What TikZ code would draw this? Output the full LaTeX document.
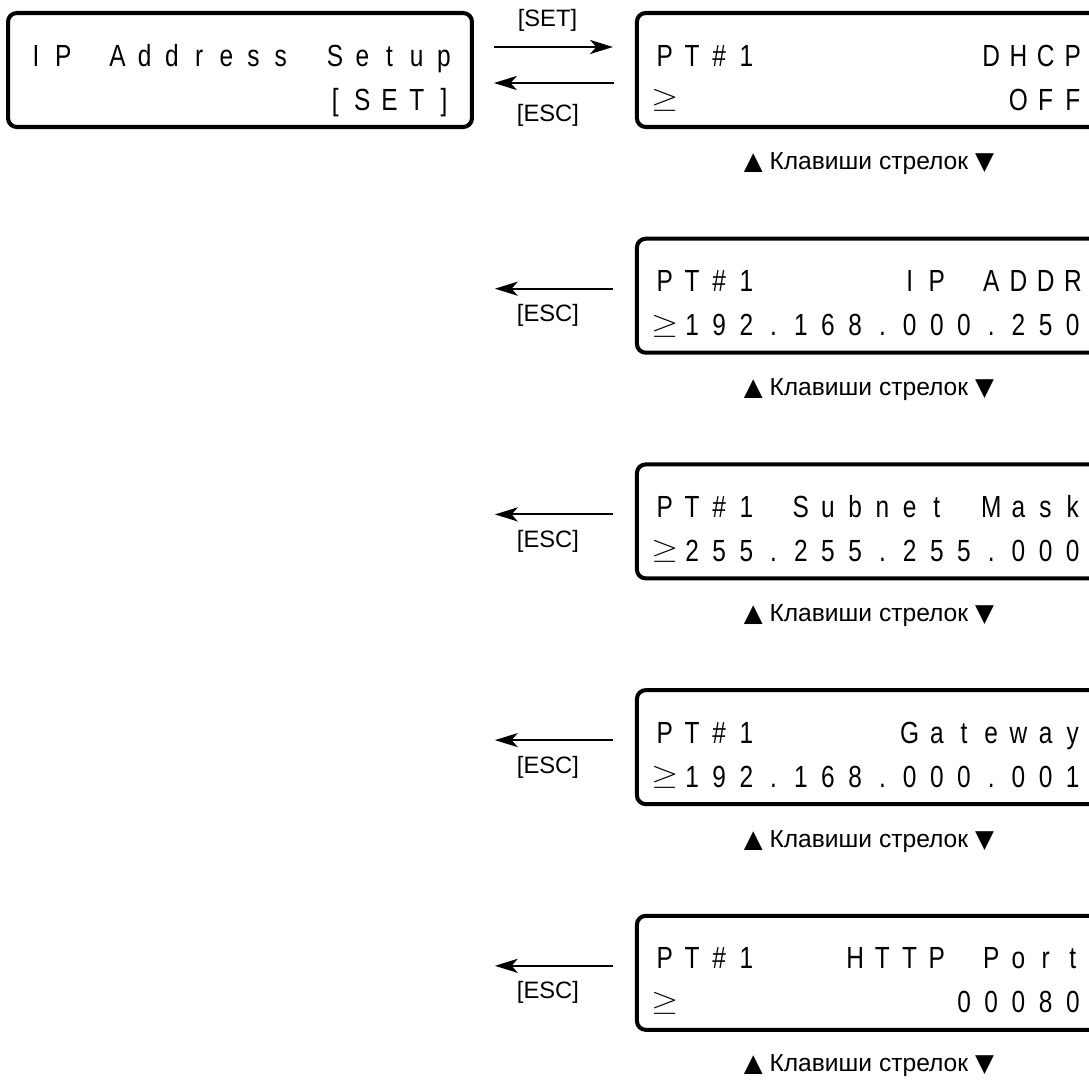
\documentclass[tikz,border=0pt]{standalone}
\usepackage{fontspec}
\usepackage{graphicx}
\setmainfont{Liberation Sans}
\newfontfamily\lcdfont[FakeStretch=0.8]{Liberation Sans}
\newfontfamily\symfont{DejaVu Sans}
\usetikzlibrary{positioning,arrows.meta}

% one LCD line: every character in a cell of its own, ~ for a blank cell
\newlength\lcdpitch
\setlength\lcdpitch{15.48pt}
\newcommand\lcdline[1]{\lcdloop#1\relax}
\def\lcdloop#1{\ifx\relax#1\else\makebox[\lcdpitch]{#1}\expandafter\lcdloop\fi}
\newcommand\lcdge{\raisebox{1.5pt}{\resizebox*{15.5pt}{12.5pt}{$\geq$}}}
\newcommand\arrowkeys{{\symfont ▲} Клавиши стрелок {\symfont ▼}}

\begin{document}
\begin{tikzpicture}[
  x=0.02cm, y=-0.02cm,
  node distance=2.235cm,
  lcd/.style={draw, line width=2.3pt, rounded corners=5pt, outer sep=0pt,
    minimum width=9.28cm, minimum height=2.28cm, inner sep=0pt},
  lcdtext/.style={anchor=base west, inner sep=0pt,
    font=\lcdfont\fontsize{17.4}{20}\selectfont},
  key/.style={-{Stealth[length=13pt,width=8pt,inset=3.5pt]}, line width=1.2pt},
  keyname/.style={inner sep=0pt, xshift=-0.12cm, font=\fontsize{13.5}{15}\selectfont},
  hint/.style={inner sep=0pt, font=\fontsize{14}{16}\selectfont}]
\clip (0,0) rectangle (1089,1084);

% menu entry
\node[lcd] (setup) at (240,70) {};
\node[lcdtext] (setup-1) at ([shift={(14,53)}]setup.north west) {\lcdline{IP~Address~Setup}};
\node[lcdtext] (setup-2) at ([shift={(14,97)}]setup.north west) {\lcdline{~~~~~~~~~~~[SET]}};

% settings screens
\node[lcd, right=3.3cm of setup] (dhcp) {};
\node[lcdtext] (dhcp-1) at ([shift={(14,53)}]dhcp.north west) {\lcdline{PT\#1~~~~~~~~DHCP}};
\node[lcdtext] (dhcp-2) at ([shift={(14,97)}]dhcp.north west) {\lcdline{\lcdge~~~~~~~~~~~~OFF}};

\node[lcd, below=of dhcp] (ipaddr) {};
\node[lcdtext] (ipaddr-1) at ([shift={(14,53)}]ipaddr.north west) {\lcdline{PT\#1~~~~~IP~ADDR}};
\node[lcdtext] (ipaddr-2) at ([shift={(14,97)}]ipaddr.north west) {\lcdline{\lcdge192.168.000.250}};

\node[lcd, below=of ipaddr] (mask) {};
\node[lcdtext] (mask-1) at ([shift={(14,53)}]mask.north west) {\lcdline{PT\#1~Subnet~Mask}};
\node[lcdtext] (mask-2) at ([shift={(14,97)}]mask.north west) {\lcdline{\lcdge255.255.255.000}};

\node[lcd, below=of mask] (gateway) {};
\node[lcdtext] (gateway-1) at ([shift={(14,53)}]gateway.north west) {\lcdline{PT\#1~~~~~Gateway}};
\node[lcdtext] (gateway-2) at ([shift={(14,97)}]gateway.north west) {\lcdline{\lcdge192.168.000.001}};

\node[lcd, below=of gateway] (port) {};
\node[lcdtext] (port-1) at ([shift={(14,53)}]port.north west) {\lcdline{PT\#1~~~HTTP~Port}};
\node[lcdtext] (port-2) at ([shift={(14,97)}]port.north west) {\lcdline{\lcdge~~~~~~~~~~00080}};

% keys
\draw[key] ([shift={(22,-23)}]setup.east) -- node[keyname, yshift=0.54cm] (set-dhcp) {[SET]} ([shift={(-24,-23)}]dhcp.west);
\draw[key] ([shift={(-23,13)}]dhcp.west) -- node[keyname, yshift=-0.64cm] (esc-dhcp) {[ESC]} ([shift={(22,13)}]setup.east);
\draw[key] ([shift={(-24,-7)}]ipaddr.west) -- node[keyname, yshift=-0.54cm] (esc-ipaddr) {[ESC]} ([shift={(-142,-7)}]ipaddr.west);
\draw[key] ([shift={(-24,-7)}]mask.west) -- node[keyname, yshift=-0.54cm] (esc-mask) {[ESC]} ([shift={(-142,-7)}]mask.west);
\draw[key] ([shift={(-24,-7)}]gateway.west) -- node[keyname, yshift=-0.54cm] (esc-gateway) {[ESC]} ([shift={(-142,-7)}]gateway.west);
\draw[key] ([shift={(-24,-7)}]port.west) -- node[keyname, yshift=-0.54cm] (esc-port) {[ESC]} ([shift={(-142,-7)}]port.west);

\node[hint] (keys-dhcp) at ([shift={(0,37)}]dhcp.south) {\arrowkeys};
\node[hint] (keys-ipaddr) at ([shift={(0,37)}]ipaddr.south) {\arrowkeys};
\node[hint] (keys-mask) at ([shift={(0,37)}]mask.south) {\arrowkeys};
\node[hint] (keys-gateway) at ([shift={(0,37)}]gateway.south) {\arrowkeys};
\node[hint] (keys-port) at ([shift={(0,36)}]port.south) {\arrowkeys};
\end{tikzpicture}
\end{document}
